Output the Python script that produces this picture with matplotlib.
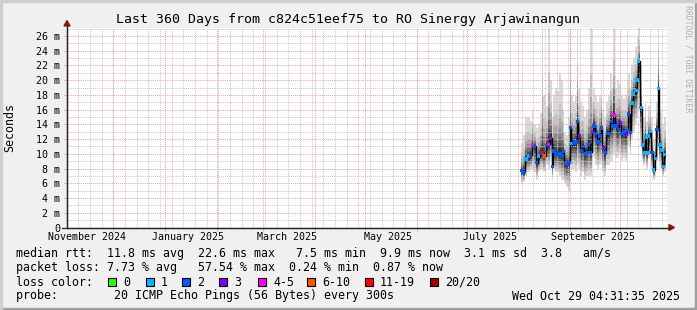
import numpy as np
import pandas as pd
import matplotlib
matplotlib.use("Agg")
import matplotlib.pyplot as plt
import matplotlib.dates as mdates
from matplotlib.patches import Rectangle, Polygon
from matplotlib.lines import Line2D

W, H = 697, 310
MONO = "DejaVu Sans Mono"

end_time = pd.Timestamp("2025-10-29 04:31:35")
start_time = end_time - pd.Timedelta(days=360)
data_base = pd.Timestamp("2025-08-01")

# days since 2025-08-01
day = [2.0, 3.4, 4.6, 6.0, 7.4, 8.4, 9.6, 11.0, 12.2, 13.4,
       14.4, 15.6, 17.0, 18.2, 19.4, 20.4, 21.4, 22.6, 23.8, 25.0,
       26.2, 27.0, 28.2, 29.4, 30.4, 31.4, 32.2, 33.4, 34.6, 35.4,
       36.6, 37.8, 39.0, 40.2, 41.4, 42.2, 43.4, 44.4, 45.4, 46.6,
       47.8, 49.0, 49.8, 51.0, 52.2, 53.4, 54.6, 55.8, 56.6, 57.4,
       58.6, 60.0, 61.0, 62.2, 63.4, 64.6, 65.8, 66.2, 67.4, 68.2,
       69.2, 70.6, 71.2, 72.1, 73.6, 74.6, 75.2, 76.2, 77.2, 78.2,
       79.2, 80.2, 81.2, 82.2, 83.2, 84.2, 85.0, 85.8, 86.8, 87.8]

# median rtt in ms
median_ms = [7.7, 7.5, 9.3, 9.6, 9.8, 11.2, 11.0, 8.8, 9.6, 10.1,
             10.2, 9.7, 11.1, 11.3, 12.1, 8.3, 10.4, 10.0, 10.0, 10.0,
             9.8, 10.3, 8.7, 8.6, 8.8, 13.6, 11.4, 11.5, 11.6, 14.4,
             12.4, 10.4, 11.0, 10.0, 10.2, 11.3, 10.2, 12.9, 13.8, 12.8,
             11.6, 12.4, 13.5, 10.8, 10.1, 12.8, 12.8, 14.4, 13.8, 15.3,
             13.8, 13.3, 14.2, 12.8, 13.0, 12.6, 13.2, 15.4, 12.9, 16.9,
             18.1, 18.6, 20.0, 22.6, 16.3, 11.2, 10.2, 12.3, 10.1, 12.4,
             13.0, 10.2, 7.8, 9.4, 13.3, 18.9, 11.2, 10.5, 8.3, 9.9]

# smoke extent (lowest / highest ping) in ms
smoke_lo = [6.0, 6.2, 7.0, 7.5, 7.8, 8.0, 7.5, 6.5, 7.5, 8.0,
            8.0, 7.5, 8.5, 8.0, 9.0, 6.5, 8.0, 7.5, 7.5, 7.0,
            6.5, 6.5, 6.0, 5.5, 5.0, 9.0, 8.0, 8.0, 7.5, 8.5,
            8.0, 7.0, 7.5, 6.5, 7.0, 7.0, 7.0, 9.0, 9.5, 8.5,
            8.0, 8.5, 9.0, 7.5, 7.0, 8.5, 8.5, 9.0, 9.0, 10.0,
            9.5, 9.5, 10.0, 9.0, 9.5, 9.0, 9.5, 11.0, 10.0, 12.0,
            13.0, 14.0, 15.0, 16.5, 11.0, 9.0, 8.5, 9.5, 8.0, 9.5,
            10.0, 8.0, 6.5, 7.0, 9.0, 12.0, 8.5, 8.0, 7.0, 7.5]
smoke_hi = [11.5, 12.5, 15.0, 15.0, 14.5, 16.0, 14.0, 13.5, 14.0, 15.5,
            27.2, 18.0, 16.5, 27.2, 20.0, 15.0, 18.0, 19.0, 18.5, 21.0,
            20.0, 16.0, 13.0, 12.5, 15.0, 27.2, 18.0, 17.0, 18.0, 27.2,
            19.0, 17.0, 16.5, 15.0, 16.0, 19.0, 27.2, 17.0, 19.0, 18.0,
            17.0, 18.0, 20.0, 16.0, 15.0, 17.0, 18.0, 21.0, 19.0, 27.2,
            19.0, 20.0, 19.5, 18.0, 17.5, 18.0, 20.0, 21.0, 19.0, 22.0,
            23.0, 24.5, 26.0, 27.2, 22.0, 16.0, 15.0, 17.0, 14.5, 16.5,
            17.5, 15.0, 12.0, 13.5, 17.0, 27.2, 16.0, 15.5, 14.0, 15.0]

# loss colour class per point (index into loss_labels)
loss_idx = [2, 2, 1, 1, 2, 4, 2, 2, 1, 2,
            6, 5, 2, 4, 3, 2, 2, 2, 2, 2,
            2, 2, 2, 2, 2, 2, 1, 2, 2, 2,
            3, 2, 2, 2, 2, 2, 2, 3, 2, 2,
            2, 2, 2, 3, 2, 2, 2, 2, 2, 4,
            2, 2, 3, 2, 2, 3, 2, 2, 2, 1,
            1, 1, 1, 1, 1, 1, 1, 1, 1, 1,
            1, 2, 1, 1, 2, 1, 1, 1, 1, 1]

loss_labels = ["0", "1", "2", "3", "4-5", "6-10", "11-19", "20/20"]
loss_colors = ["#26ff00", "#00b8ff", "#0059ff", "#7e00ff",
               "#ff00ff", "#ff5500", "#ff0000", "#a10000"]

title = "Last 360 Days from c824c51eef75 to RO Sinergy Arjawinangun"
rtt_line = "median rtt:  11.8 ms avg  22.6 ms max   7.5 ms min  9.9 ms now  3.1 ms sd  3.8   am/s"
loss_line = "packet loss: 7.73 % avg   57.54 % max  0.24 % min  0.87 % now"
probe_line = "probe:        20 ICMP Echo Pings (56 Bytes) every 300s"
stamp = "Wed Oct 29 04:31:35 2025"

y_top = 200 / 7.365


def fx(px):
    return px / W


def fy(py):
    return 1 - py / H


fig = plt.figure(figsize=(W / 100, H / 100), dpi=100, facecolor="#f0f0f0")

# rrdtool style 3d frame
fig.patches.append(Rectangle((0, 0), 1, fy(H - 2), transform=fig.transFigure, color="#9e9e9e", zorder=0))
fig.patches.append(Rectangle((fx(W - 2), 0), fx(2), 1, transform=fig.transFigure, color="#9e9e9e", zorder=0))
fig.patches.append(Rectangle((0, fy(2)), 1, 1 - fy(2), transform=fig.transFigure, color="#cfcfcf", zorder=0))
fig.patches.append(Rectangle((0, 0), fx(2), 1, transform=fig.transFigure, color="#cfcfcf", zorder=0))

ax = fig.add_axes([fx(67), fy(227.5), fx(600), 200 / H])
ax.set_facecolor("white")

t = mdates.date2num(data_base + pd.to_timedelta(day, unit="D"))
mid = (t[:-1] + t[1:]) / 2
left = np.concatenate([[t[0] - (t[1] - t[0]) / 2], mid])
right = np.concatenate([mid, [t[-1] + (t[-1] - t[-2]) / 2]])
width = right - left
med = np.array(median_ms)
lo = np.array(smoke_lo)
hi = np.array(smoke_hi)

# smoke: nested bands from the outer extent to the median
shades = [(1.0, 1.0, "#d9d9d9"), (0.82, 0.62, "#c3c3c3"), (0.66, 0.44, "#a9a9a9"),
          (0.52, 0.31, "#8d8d8d"), (0.38, 0.21, "#6e6e6e"), (0.25, 0.13, "#4e4e4e"),
          (0.13, 0.07, "#303030")]
for f_lo, f_hi, col in shades:
    b = med - f_lo * (med - lo)
    top = med + f_hi * (hi - med)
    ax.bar(left, top - b, width=width, bottom=b, align="edge", color=col,
           linewidth=0, zorder=2)

# grid
dot = (0, (1, 1))
for d in pd.date_range("2024-11-10", end_time, freq="7D"):
    ax.axvline(mdates.date2num(d), color="#c8c8c8", lw=0.7, ls=dot, zorder=2.5)
for v in range(1, 28, 2):
    ax.axhline(v, color="#c8c8c8", lw=0.7, ls=dot, zorder=2.5)
month_starts = pd.date_range("2024-12-01", end_time, freq="MS")
for d in month_starts:
    ax.axvline(mdates.date2num(d), color="#f2a0a0", lw=0.7, ls=dot, zorder=2.6)
for v in range(2, 28, 2):
    ax.axhline(v, color="#f2a0a0", lw=0.7, ls=dot, zorder=2.6)

# median line and loss coloured dots
ax.step(t, med, where="mid", color="black", lw=1.0, zorder=4)
ax.scatter(t, med, marker="s", s=6, c=[loss_colors[i] for i in loss_idx],
           linewidths=0, zorder=5)

ax.set_xlim(mdates.date2num(start_time), mdates.date2num(end_time))
ax.set_ylim(0, y_top)

yt = list(range(0, 27, 2))
ax.set_yticks(yt, ["0"] + [f"{v} m" for v in yt[1:]], fontfamily=MONO, fontsize=7.2)
ax.tick_params(axis="y", length=2.2, width=0.7, color="#f2a0a0", pad=2.9)

label_months = ["2024-11-15", "2025-01-15", "2025-03-15", "2025-05-15",
                "2025-07-15", "2025-09-15"]
label_text = ["November 2024", "January 2025", "March 2025", "May 2025",
              "July 2025", "September 2025"]
ax.set_xticks(mdates.date2num(pd.to_datetime(label_months)), label_text,
              fontfamily=MONO, fontsize=7.2)
ax.tick_params(axis="x", length=0, pad=3.6)
ax.set_xticks(mdates.date2num(month_starts), minor=True)
ax.tick_params(axis="x", which="minor", length=2.2, width=0.7, color="#f2a0a0")

for s in ["top", "right"]:
    ax.spines[s].set_visible(False)
for s in ["left", "bottom"]:
    ax.spines[s].set_color("#222222")
    ax.spines[s].set_linewidth(0.9)
    ax.spines[s].set_zorder(6)

# axis extensions with arrows
arrow_col = "#8b1a1a"
fig.lines.append(Line2D([fx(67), fx(67)], [fy(227.5), fy(25)], transform=fig.transFigure,
                        color="#222222", lw=0.9))
fig.lines.append(Line2D([fx(62), fx(670)], [fy(227.5), fy(227.5)], transform=fig.transFigure,
                        color="#222222", lw=0.9))
fig.patches.append(Polygon([(fx(64), fy(26)), (fx(70), fy(26)), (fx(67), fy(20.5))],
                           closed=True, transform=fig.transFigure, color=arrow_col))
fig.patches.append(Polygon([(fx(669), fy(224.5)), (fx(669), fy(230.5)), (fx(674.5), fy(227.5))],
                           closed=True, transform=fig.transFigure, color=arrow_col))

# texts
fig.text(fx(347.5), fy(19.5), title, ha="center", va="center", fontfamily=MONO, fontsize=9.55)
fig.text(fx(10), fy(127), "Seconds", rotation=90, ha="center", va="center",
         fontfamily=MONO, fontsize=8.4)
fig.text(fx(688), fy(5), "RRDTOOL / TOBI OETIKER", rotation=-90, ha="center", va="top",
         fontfamily=MONO, fontsize=5.9, color="#b0b0b0")

fs = 8.4
fig.text(fx(16), fy(254), rtt_line, ha="left", va="center", fontfamily=MONO, fontsize=fs)
fig.text(fx(16), fy(268), loss_line, ha="left", va="center", fontfamily=MONO, fontsize=fs)
fig.text(fx(16), fy(282), "loss color:", ha="left", va="center", fontfamily=MONO, fontsize=fs)
box_x = [108, 146, 182, 219, 258, 307, 365, 430]
for bx, lab, col in zip(box_x, loss_labels, loss_colors):
    fig.patches.append(Rectangle((fx(bx), fy(286)), fx(8), 8 / H, transform=fig.transFigure,
                                 facecolor=col, edgecolor="black", lw=0.8))
    fig.text(fx(bx + 15), fy(282), lab, ha="left", va="center", fontfamily=MONO, fontsize=fs)
fig.text(fx(16), fy(296), probe_line, ha="left", va="center", fontfamily=MONO, fontsize=fs)
fig.text(fx(680), fy(296), stamp, ha="right", va="center", fontfamily=MONO, fontsize=fs)

fig.savefig("out.png", dpi=100, facecolor=fig.get_facecolor())
